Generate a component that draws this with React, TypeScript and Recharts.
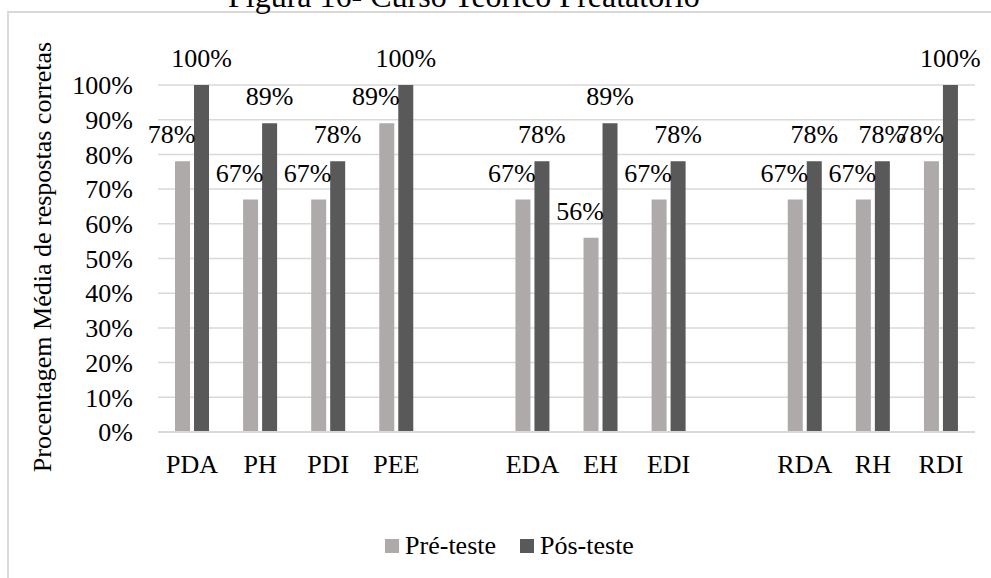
import React from "react";
import { BarChart, Bar, XAxis, YAxis, CartesianGrid, Legend, LabelList } from "recharts";

// empty strings are the blank slots between the P / E / R groups
const CATEGORIES = ["PDA", "PH", "PDI", "PEE", "", "EDA", "EH", "EDI", "", "RDA", "RH", "RDI"];
const PRE_TESTE = [78, 67, 67, 89, null, 67, 56, 67, null, 67, 67, 78];
const POS_TESTE = [100, 89, 78, 100, null, 78, 89, 78, null, 78, 78, 100];
const Y_TICKS = [0, 10, 20, 30, 40, 50, 60, 70, 80, 90, 100];

const TITLE = "Figura 16- Curso Teórico Preatatório";
const Y_TITLE = "Procentagem Média de respostas corretas";

const PRE_COLOR = "#aeaaaa";
const POS_COLOR = "#595959";
const GRID = "#d9d9d9";
const FONT = "Liberation Serif";

const data = CATEGORIES.map((name, i) => ({
  name,
  pre: PRE_TESTE[i],
  pos: POS_TESTE[i],
}));

// Excel nudged most pre-test labels to the left so they don't collide
function makeLabel(shift: number) {
  return (props: any) => {
    const { x, y, width, value, index } = props;
    if (value == null) return null;
    const dx = index === CATEGORIES.length - 1 ? 0 : shift;
    return (
      <text
        x={Number(x) + Number(width) / 2 + dx}
        y={Number(y) - 18}
        textAnchor="middle"
        style={{ fontFamily: FONT, fontSize: 26 }}
        fill="#000"
      >
        {value}%
      </text>
    );
  };
}

function LegendContent(props: any) {
  const { payload } = props;
  return (
    <div
      style={{
        display: "flex",
        justifyContent: "center",
        gap: 24,
        fontFamily: FONT,
        fontSize: 26,
        color: "#000",
      }}
    >
      {(payload || []).map((p: any) => (
        <div key={p.value} style={{ display: "flex", alignItems: "center" }}>
          <span style={{ width: 14, height: 14, background: p.color, marginRight: 6, display: "inline-block" }} />
          <span>{p.value}</span>
        </div>
      ))}
    </div>
  );
}

export default function App() {
  return (
    <div
      style={{
        position: "absolute",
        left: 0,
        top: 0,
        width: 991,
        height: 578,
        overflow: "hidden",
        background: "#fff",
        fontFamily: FONT,
      }}
    >
      <div
        style={{
          position: "absolute",
          left: 7,
          top: 11,
          width: 1000,
          height: 600,
          border: `2px solid ${GRID}`,
        }}
      />
      <div
        style={{
          position: "absolute",
          left: 228,
          top: -22,
          fontSize: 32,
          lineHeight: "37px",
          whiteSpace: "nowrap",
          color: "#000",
        }}
      >
        {TITLE}
      </div>
      <div
        style={{
          position: "absolute",
          left: 43,
          top: 257,
          fontSize: 26,
          whiteSpace: "nowrap",
          color: "#000",
          transform: "translate(-50%, -50%) rotate(-90deg)",
        }}
      >
        {Y_TITLE}
      </div>
      <div style={{ position: "absolute", left: 0, top: 0 }}>
        <BarChart
          width={991}
          height={578}
          data={data}
          margin={{ top: 85, right: 16, bottom: 116, left: 0 }}
          barCategoryGap="25%"
          barGap={4}
        >
          <CartesianGrid vertical={false} stroke={GRID} strokeWidth={1.5} />
          <XAxis
            dataKey="name"
            interval={0}
            tickLine={false}
            tickSize={0}
            tickMargin={23}
            axisLine={{ stroke: GRID, strokeWidth: 2 }}
            tick={{ fill: "#000", fontSize: 26, fontFamily: FONT }}
          />
          <YAxis
            width={158}
            domain={[0, 100]}
            ticks={Y_TICKS}
            interval={0}
            tickFormatter={(v) => `${v}%`}
            axisLine={false}
            tickLine={false}
            tickSize={0}
            tickMargin={25}
            tick={{ fill: "#000", fontSize: 26, fontFamily: FONT }}
          />
          <Legend
            layout="horizontal"
            verticalAlign="middle"
            align="center"
            wrapperStyle={{ top: 531, left: 14, width: 991 }}
            content={<LegendContent />}
          />
          <Bar dataKey="pre" name="Pré-teste" fill={PRE_COLOR} isAnimationActive={false}>
            <LabelList dataKey="pre" content={makeLabel(-11)} />
          </Bar>
          <Bar dataKey="pos" name="Pós-teste" fill={POS_COLOR} isAnimationActive={false}>
            <LabelList dataKey="pos" content={makeLabel(0)} />
          </Bar>
        </BarChart>
      </div>
    </div>
  );
}
